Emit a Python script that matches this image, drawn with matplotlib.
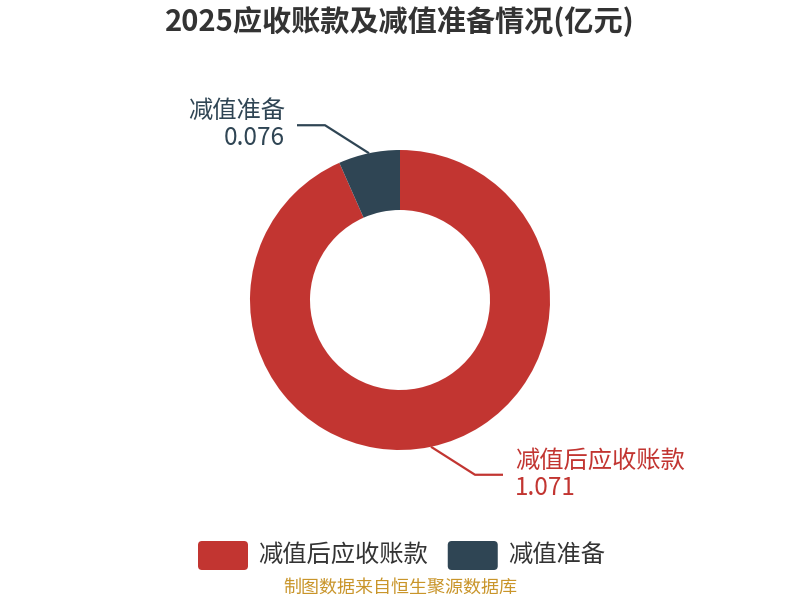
import numpy as np
import matplotlib

matplotlib.use("Agg")
import matplotlib.pyplot as plt  # noqa: E402
from matplotlib.patches import FancyBboxPatch  # noqa: E402

plt.rcParams["font.family"] = ["Noto Sans CJK SC", "DejaVu Sans"]

TITLE = "2025应收账款及减值准备情况(亿元)"
SOURCE = "制图数据来自恒生聚源数据库"
labels = ["减值后应收账款", "减值准备"]
values = [1.071, 0.076]
value_text = ["1.071", "0.076"]
colors = ["#c23531", "#2f4554"]

W, H = 800, 600
CX, CY = 400, 300  # centre in pixel coords (top-left origin)
R_OUT, R_IN = 150, 90

fig = plt.figure(figsize=(8, 6), dpi=100)
ax = fig.add_axes([0, 0, 1, 1])
ax.set_xlim(0, W)
ax.set_ylim(0, H)
ax.set_aspect("equal")
ax.axis("off")

wedges, _ = ax.pie(values, colors=colors, startangle=90, counterclock=False,
                   radius=R_OUT, center=(CX, H - CY),
                   wedgeprops=dict(width=R_OUT - R_IN, linewidth=0))
ax.set_xlim(0, W)
ax.set_ylim(0, H)

# leader lines + labels
for w, lab, vt, c in zip(wedges, labels, value_text, colors):
    mid = np.deg2rad((w.theta1 + w.theta2) / 2)
    x0 = CX + R_OUT * np.cos(mid)
    y0 = H - CY + R_OUT * np.sin(mid)
    sx = 1 if np.cos(mid) >= 0 else -1
    sy = 1 if np.sin(mid) >= 0 else -1
    x1, y1 = x0 + sx * 44, y0 + sy * 28
    x2 = x1 + sx * 28
    ax.plot([x0, x1, x2], [y0, y1, y1], color=c, lw=1.6, solid_capstyle="butt")
    tx = x2 + sx * 12
    ha = "left" if sx > 0 else "right"
    ax.text(tx, y1 + 14, lab, color=c, fontsize=17.5, ha=ha, va="center")
    ax.text(tx, y1 - 13, vt, color=c, fontsize=17.5, ha=ha, va="center")

ax.text(CX, H - 22, TITLE, fontsize=21, fontweight="bold", color="#333333",
        ha="center", va="center")

# legend
lx = 198
for lab, c in zip(labels, colors):
    ax.add_patch(FancyBboxPatch((lx + 4, H - 570 + 4), 42, 21,
                                boxstyle="round,pad=4", fc=c, ec="none"))
    t = ax.text(lx + 60, H - 555, lab, fontsize=17.5, color="#333333",
                ha="left", va="center")
    fig.canvas.draw()
    bb = t.get_window_extent()
    lx = bb.x1 + 20

ax.text(CX, H - 588, SOURCE, fontsize=13, color="#c9952a", ha="center", va="center")

fig.savefig("out.png", dpi=100, facecolor="white")
